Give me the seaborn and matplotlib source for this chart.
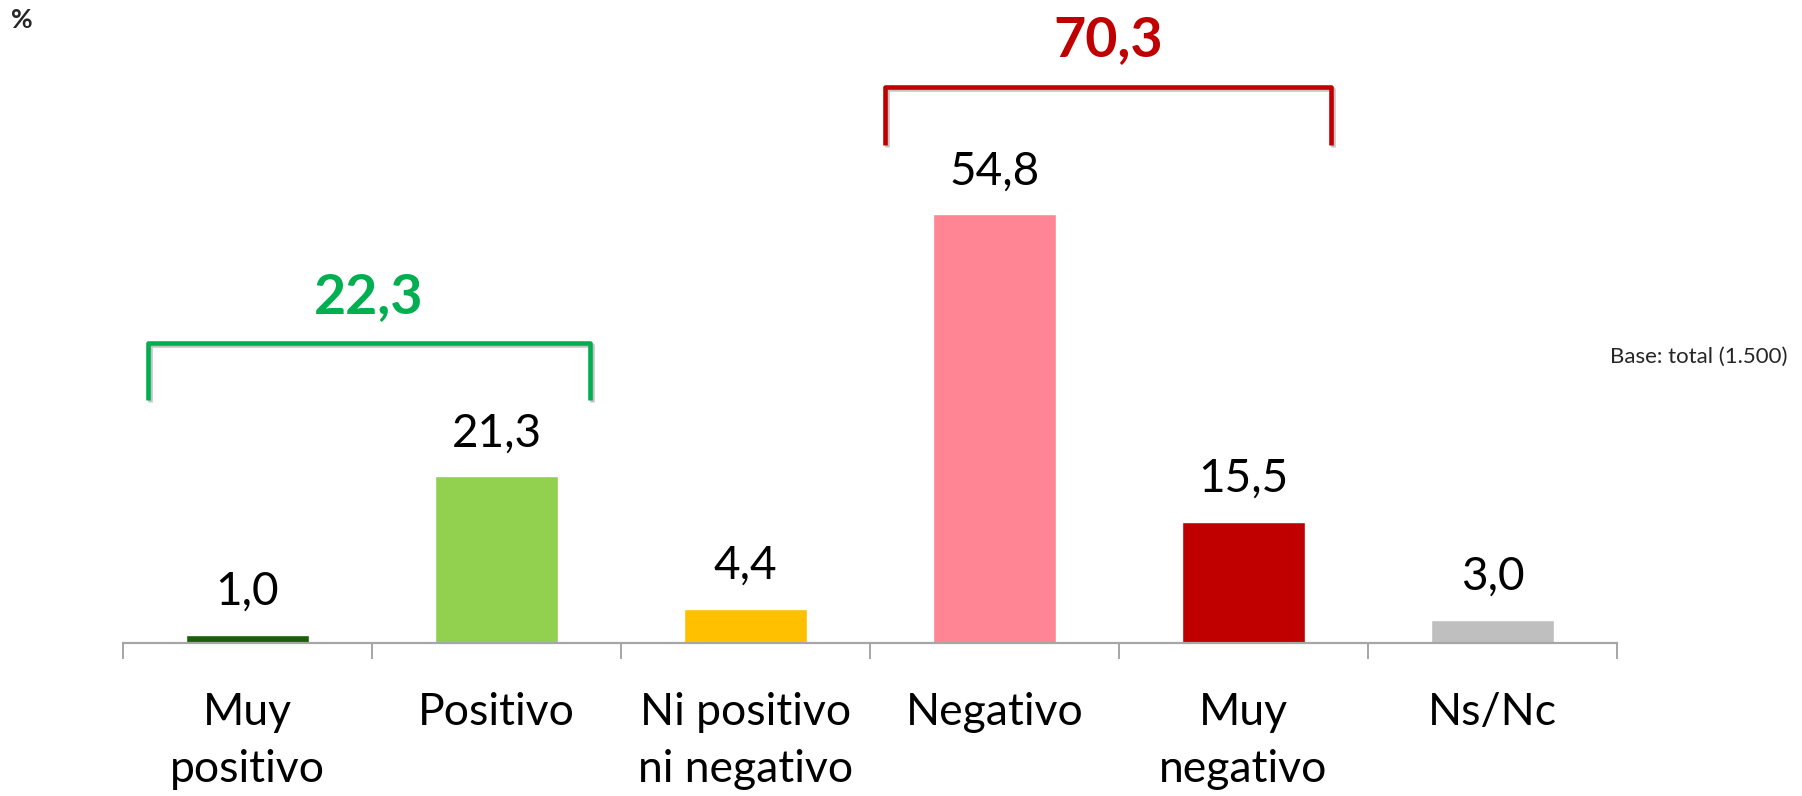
import matplotlib
matplotlib.use("Agg")
import matplotlib.pyplot as plt
import matplotlib.patheffects as pe
import seaborn as sns
import pandas as pd

# Survey answers and percentages
categories = ["Muy\npositivo", "Positivo", "Ni positivo\nni negativo", "Negativo", "Muy\nnegativo", "Ns/Nc"]
values = [1.0, 21.3, 4.4, 54.8, 15.5, 3.0]
value_labels = ["1,0", "21,3", "4,4", "54,8", "15,5", "3,0"]
bar_colors = ["#1B5E0B", "#92D050", "#FFC000", "#FF8595", "#C00000", "#BFBFBF"]

# Grouped totals shown above brackets
positive_total = "22,3"
negative_total = "70,3"

sns.set_theme(style="white")
plt.rcParams["font.family"] = ["Lato", "DejaVu Sans"]

fig = plt.figure(figsize=(18.02, 7.96), dpi=100)
ax = fig.add_axes([123 / 1802, 153 / 796, 1494 / 1802, 643 / 796])

df = pd.DataFrame({"cat": categories, "val": values})
sns.barplot(data=df, x="cat", y="val", hue="cat", palette=bar_colors,
            width=0.49, legend=False, saturation=1, ax=ax)

ax.set_xlim(-0.5, len(categories) - 0.5)
ax.set_ylim(0, 82.2)
ax.set_xlabel("")
ax.set_ylabel("")
ax.set_yticks([])

for s in ["top", "left", "right"]:
    ax.spines[s].set_visible(False)
ax.spines["bottom"].set_color("#A6A6A6")
ax.spines["bottom"].set_linewidth(1.6)

# Category separators below the axis
ax.set_xticks([i - 0.5 for i in range(len(categories) + 1)], minor=True)
ax.tick_params(axis="x", which="minor", length=11.5, width=1.4, color="#A6A6A6",
               direction="out", bottom=True)
ax.tick_params(axis="x", which="major", length=0, pad=35, labelsize=32, labelcolor="black")
for lbl in ax.get_xticklabels():
    lbl.set_linespacing(1.5)

# Value labels above each bar
for i, (v, t) in enumerate(zip(values, value_labels)):
    ax.annotate(t, xy=(i, v), xytext=(0, 31), textcoords="offset points",
                ha="center", va="center", fontsize=33, color="black")

# Brackets grouping positive and negative answers
shadow = [pe.SimpleLineShadow(offset=(1.5, -1.5), alpha=0.25), pe.Normal()]

def bracket(x0, x1, ytop, yend, color, label, ylabel):
    ax.plot([x0, x0, x1, x1], [yend, ytop, ytop, yend], color=color, lw=3.3,
            solid_joinstyle="round", solid_capstyle="butt", path_effects=shadow,
            clip_on=False)
    ax.text((x0 + x1) / 2, ylabel, label, ha="center", va="center", fontsize=40,
            fontweight="bold", color=color)

bracket(-0.40, 1.375, 38.4, 31.1, "#00B050", positive_total, 44.2)
bracket(2.56, 4.35, 71.1, 63.7, "#C00000", negative_total, 77.1)

fig.text(0.006, 0.975, "%", ha="left", va="center", fontsize=19, fontweight="bold")
fig.text(1787 / 1802, 1 - 357 / 796, "Base: total (1.500)", ha="right", va="center",
         fontsize=16)

fig.savefig("out.png", dpi=100)
